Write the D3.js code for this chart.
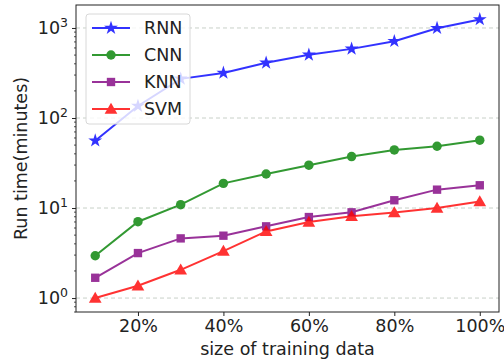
<!DOCTYPE html>
<html>
<head>
<meta charset="utf-8">
<script src="https://cdn.jsdelivr.net/npm/d3@7"></script>
<style>
  body { margin: 0; background: #fff; }
  svg { display: block; font-family: "DejaVu Sans", sans-serif; }
</style>
</head>
<body>
<svg></svg>
<script>
const width = 504;
const height = 359;

// données
const sizes = [10, 20, 30, 40, 50, 60, 70, 80, 90, 100];
const rnn = [56, 136, 272, 317, 410, 503, 586, 713, 995, 1245];
const cnn = [2.95, 7.05, 10.9, 18.8, 23.9, 29.9, 37.3, 44.2, 48.6, 56.7];
const knn = [1.68, 3.16, 4.6, 4.93, 6.26, 7.94, 8.96, 12.2, 16.0, 17.9];
const svm = [1.0, 1.37, 2.06, 3.32, 5.5, 6.98, 8.09, 8.9, 10.0, 11.8];
const xTicks = [20, 40, 60, 80, 100];
const yTicks = [1, 10, 100, 1000];

const series = [
  { name: "RNN", values: rnn, color: "#0000ff", marker: "star" },
  { name: "CNN", values: cnn, color: "#008000", marker: "circle" },
  { name: "KNN", values: knn, color: "#800080", marker: "square" },
  { name: "SVM", values: svm, color: "#ff0000", marker: "triangle" }
];

const margin = { top: 5, right: 5, bottom: 47, left: 76 };
const svg = d3.select("svg").attr("width", width).attr("height", height);

const x = d3.scaleLinear().domain([5.5, 104.5]).range([margin.left, width - margin.right]);
const y = d3.scaleLog().domain([0.7, 1800]).range([height - margin.bottom, margin.top]);

// grille
svg.append("g")
  .selectAll("line")
  .data(yTicks)
  .join("line")
  .attr("x1", margin.left).attr("x2", width - margin.right)
  .attr("y1", d => y(d)).attr("y2", d => y(d))
  .attr("stroke", "#c8d0c8").attr("stroke-width", 1)
  .attr("stroke-dasharray", "4,3");

// axe x
const xAxis = svg.append("g")
  .attr("transform", `translate(0,${height - margin.bottom})`)
  .call(d3.axisBottom(x).tickValues(xTicks).tickFormat(d => d + "%").tickSize(4).tickPadding(4));
xAxis.select(".domain").remove();
xAxis.selectAll("text").attr("font-size", 17.5).attr("fill", "#222").attr("font-family", "DejaVu Sans");
xAxis.selectAll("line").attr("stroke", "#222");

// axe y (log)
const minor = [];
for (let e = -1; e < 4; e++) {
  for (let k = 2; k <= 9; k++) {
    const v = k * Math.pow(10, e);
    if (v >= 0.7 && v <= 1800) minor.push(v);
  }
}
svg.append("g").selectAll("line")
  .data(minor)
  .join("line")
  .attr("x1", margin.left - 2).attr("x2", margin.left)
  .attr("y1", d => y(d)).attr("y2", d => y(d))
  .attr("stroke", "#222").attr("stroke-width", 0.8);

const yAxis = svg.append("g")
  .attr("transform", `translate(${margin.left},0)`)
  .call(d3.axisLeft(y).tickValues(yTicks).tickFormat("").tickSize(4));
yAxis.select(".domain").remove();
yAxis.selectAll("line").attr("stroke", "#222");

const yl = svg.append("g").selectAll("text")
  .data(yTicks)
  .join("text")
  .attr("x", margin.left - 8)
  .attr("y", d => y(d) + 6)
  .attr("text-anchor", "end")
  .attr("font-size", 17.5)
  .attr("fill", "#222");
yl.append("tspan").text("10");
yl.append("tspan").attr("dy", -7).attr("font-size", 12.5).text(d => Math.round(Math.log10(d)));

// cadre
svg.append("rect")
  .attr("x", margin.left).attr("y", margin.top)
  .attr("width", width - margin.left - margin.right)
  .attr("height", height - margin.top - margin.bottom)
  .attr("fill", "none").attr("stroke", "#222").attr("stroke-width", 1);

// titres des axes
svg.append("text")
  .attr("x", (margin.left + width - margin.right) / 2)
  .attr("y", height - 4)
  .attr("text-anchor", "middle")
  .attr("font-size", 17.5).attr("fill", "#222")
  .text("size of training data");

svg.append("text")
  .attr("transform", `translate(27,${(margin.top + height - margin.bottom) / 2}) rotate(-90)`)
  .attr("text-anchor", "middle")
  .attr("font-size", 17.5).attr("fill", "#222")
  .text("Run time(minutes)");

// symboles
const symbolFor = {
  star: d3.symbol().type(d3.symbolStar).size(60),
  circle: d3.symbol().type(d3.symbolCircle).size(70),
  square: d3.symbol().type(d3.symbolSquare).size(70),
  triangle: d3.symbol().type(d3.symbolTriangle).size(70)
};

const line = d3.line().x((d, i) => x(sizes[i])).y(d => y(d));

series.forEach(s => {
  const g = svg.append("g").attr("opacity", 0.8);
  g.append("path")
    .attr("d", line(s.values))
    .attr("fill", "none")
    .attr("stroke", s.color)
    .attr("stroke-width", 2);
  g.selectAll("path.m")
    .data(s.values)
    .join("path")
    .attr("class", "m")
    .attr("transform", (d, i) => `translate(${x(sizes[i])},${y(d) + (s.marker === "triangle" ? 1 : 0)})`)
    .attr("d", symbolFor[s.marker]())
    .attr("fill", s.color);
});

// légende
const legend = svg.append("g").attr("transform", "translate(86,14)");
legend.append("rect")
  .attr("width", 104).attr("height", 110)
  .attr("rx", 3)
  .attr("fill", "#fff").attr("fill-opacity", 0.8)
  .attr("stroke", "#d8d8d8");

series.forEach((s, i) => {
  const ly = 14 + i * 27;
  const g = legend.append("g").attr("opacity", 0.8);
  g.append("line")
    .attr("x1", 6).attr("x2", 44)
    .attr("y1", ly).attr("y2", ly)
    .attr("stroke", s.color).attr("stroke-width", 2);
  g.append("path")
    .attr("transform", `translate(25,${ly + (s.marker === "triangle" ? 1 : 0)})`)
    .attr("d", symbolFor[s.marker]())
    .attr("fill", s.color);
  legend.append("text")
    .attr("x", 58).attr("y", ly + 6)
    .attr("font-size", 17.5).attr("fill", "#222")
    .text(s.name);
});
</script>
</body>
</html>
